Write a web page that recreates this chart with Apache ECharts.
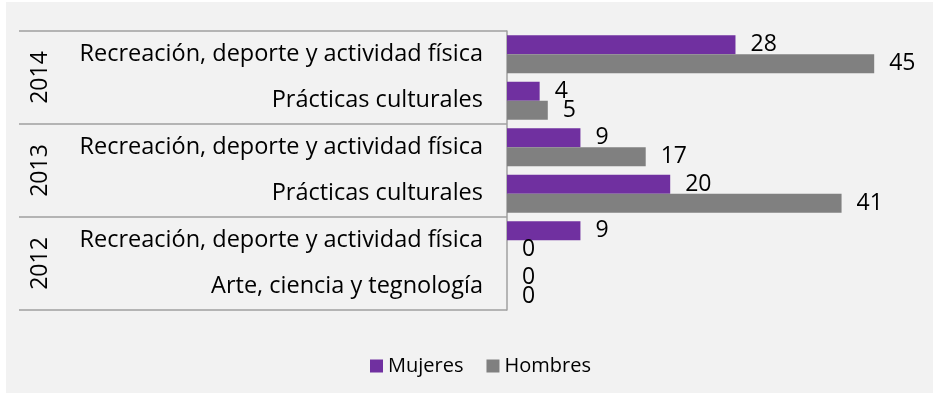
<!DOCTYPE html>
<html>
<head>
<meta charset="utf-8">
<script src="https://cdn.jsdelivr.net/npm/echarts@6/dist/echarts.min.js"></script>
<style>
  html, body { margin: 0; padding: 0; background: #ffffff; }
  #chart { position: absolute; left: 6px; top: 2px; width: 927px; height: 391px; }
</style>
</head>
<body>
<div id="chart"></div>
<script>
// Activity categories, listed top to bottom
const categories = [
  'Recreación, deporte y actividad física',
  'Prácticas culturales',
  'Recreación, deporte y actividad física',
  'Prácticas culturales',
  'Recreación, deporte y actividad física',
  'Arte, ciencia y tegnología'
];
// Year groups, each spanning two categories
const years = ['2014', '2013', '2012'];
// Participants by sex
const mujeres = [28, 4, 9, 20, 9, 0];
const hombres = [45, 5, 17, 41, 0, 0];

const FONT = 'Open Sans';
const chart = echarts.init(document.getElementById('chart'));

chart.setOption({
  backgroundColor: '#f2f2f2',
  animation: false,
  textStyle: { fontFamily: FONT },
  grid: { left: 501, right: 18, top: 29, bottom: 83 },
  legend: {
    left: 359,
    top: 349,
    icon: 'rect',
    itemWidth: 13,
    itemHeight: 13,
    itemGap: 23,
    textStyle: { fontFamily: FONT, fontSize: 20, color: '#000' },
    data: ['Mujeres', 'Hombres']
  },
  xAxis: {
    type: 'value',
    min: 0,
    max: 50,
    show: false
  },
  yAxis: [
    {
      type: 'category',
      data: categories,
      inverse: true,
      position: 'left',
      axisLine: { show: false },
      axisTick: { show: false },
      axisLabel: {
        margin: 24,
        fontFamily: FONT,
        fontSize: 23.5,
        color: '#000'
      }
    },
    {
      type: 'category',
      data: years,
      inverse: true,
      position: 'left',
      axisLine: { show: true, lineStyle: { color: '#a0a0a0', width: 1.5 } },
      axisTick: { show: true, inside: false, length: 488, lineStyle: { color: '#a0a0a0', width: 1.5 } },
      axisLabel: {
        rotate: 90,
        margin: 455,
        fontFamily: FONT,
        fontSize: 23,
        color: '#000'
      }
    }
  ],
  series: [
    {
      name: 'Mujeres',
      type: 'bar',
      yAxisIndex: 0,
      data: mujeres,
      barGap: '0%',
      barCategoryGap: '18%',
      itemStyle: { color: '#7030a0' },
      label: { show: true, position: 'right', distance: 15, fontFamily: FONT, fontSize: 23, color: '#000' }
    },
    {
      name: 'Hombres',
      type: 'bar',
      yAxisIndex: 0,
      data: hombres,
      barGap: '0%',
      barCategoryGap: '18%',
      itemStyle: { color: '#808080' },
      label: { show: true, position: 'right', distance: 15, fontFamily: FONT, fontSize: 23, color: '#000' }
    }
  ]
});
</script>
</body>
</html>
